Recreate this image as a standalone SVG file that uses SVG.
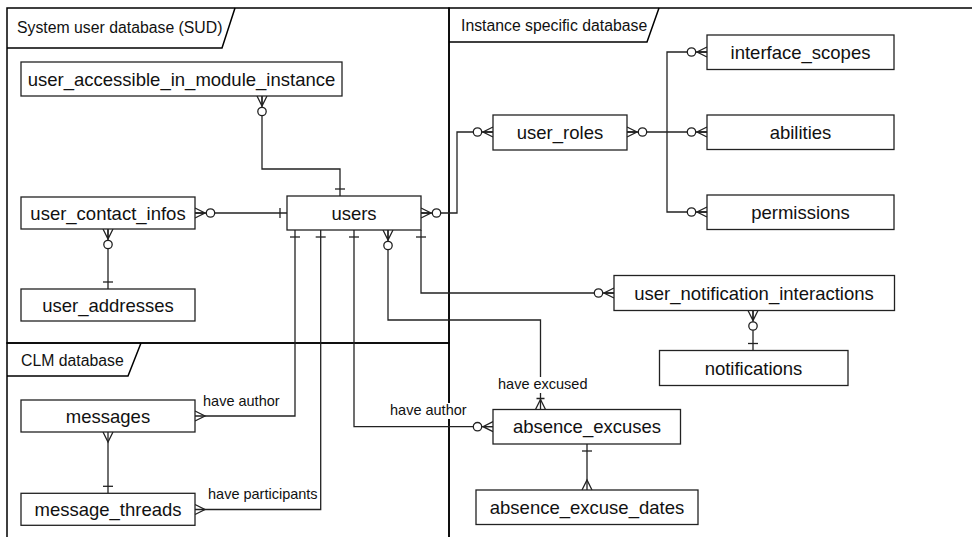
<svg xmlns="http://www.w3.org/2000/svg" width="972" height="537" viewBox="0 0 972 537">
<style>
.frame{fill:none;stroke:#000;stroke-width:1.5}
.box{fill:#fff;stroke:#222;stroke-width:1.3}
.nt{font-family:"Liberation Sans",Arial,sans-serif;font-size:18.5px;fill:#111;text-anchor:middle}
.ft{font-family:"Liberation Sans",Arial,sans-serif;font-size:15.8px;fill:#111}
.lt{font-family:"Liberation Sans",Arial,sans-serif;font-size:14.5px;fill:#111}
.c{fill:none;stroke:#222;stroke-width:1.3}
.m0n{marker-start:url(#m0n)}
</style>
<defs>
<marker id="m0n" markerUnits="userSpaceOnUse" viewBox="-22 -7 24 14" refX="0" refY="0" markerWidth="24" markerHeight="14" orient="auto-start-reverse" overflow="visible">
<path d="M0,-5 L-10,0 L0,5 M-10,0 H0" fill="none" stroke="#222" stroke-width="1.3"/>
<circle cx="-15.5" cy="0" r="4.2" fill="#fff" stroke="#222" stroke-width="1.3"/>
</marker>
<marker id="mn" markerUnits="userSpaceOnUse" viewBox="-22 -7 24 14" refX="0" refY="0" markerWidth="24" markerHeight="14" orient="auto-start-reverse" overflow="visible">
<path d="M0,-5 L-10,0 L0,5" fill="none" stroke="#222" stroke-width="1.3"/>
</marker>
<marker id="one" markerUnits="userSpaceOnUse" viewBox="-22 -7 24 14" refX="0" refY="0" markerWidth="24" markerHeight="14" orient="auto-start-reverse" overflow="visible">
<path d="M-7,-5 V5" fill="none" stroke="#222" stroke-width="1.3"/>
</marker>
<marker id="m1n" markerUnits="userSpaceOnUse" viewBox="-22 -7 24 14" refX="0" refY="0" markerWidth="24" markerHeight="14" orient="auto-start-reverse" overflow="visible">
<path d="M0,-5 L-10,0 L0,5 M-11,-4 V4" fill="none" stroke="#222" stroke-width="1.3"/>
</marker>
</defs>
<rect width="972" height="537" fill="#fff"/>

<g id="frames">
<g id="frame-sud">
<rect class="frame" x="7" y="8" width="442" height="335"/>
<path class="frame" d="M7,48 H222 L235,8"/>
<text class="ft" x="17" y="33">System user database (SUD)</text>
</g>
<g id="frame-clm">
<rect class="frame" x="7" y="343" width="442" height="210"/>
<path class="frame" d="M7,376 H128 L141,343"/>
<text class="ft" x="21" y="366">CLM database</text>
</g>
<g id="frame-instance">
<rect class="frame" x="449" y="8" width="540" height="545"/>
<path class="frame" d="M449,42 H647 L659,8"/>
<text class="ft" x="461" y="31">Instance specific database</text>
</g>
</g>

<g id="connectors">
<path class="c" d="M262,96 V169 H340 V196" marker-start="url(#m0n)" marker-end="url(#one)"/>
<path class="c" d="M195,213 H287" marker-start="url(#m0n)" marker-end="url(#one)"/>
<path class="c" d="M108,229 V289" marker-start="url(#m0n)" marker-end="url(#one)"/>
<path class="c" d="M421,213 H457 V132 H493" marker-start="url(#m0n)" marker-end="url(#m0n)"/>
<path class="c" d="M627,132 H707" marker-start="url(#m0n)" marker-end="url(#m0n)"/>
<path class="c" d="M707,52 H667 V212 H707" marker-start="url(#m0n)" marker-end="url(#m0n)"/>
<path class="c" d="M421,230 V293 H614" marker-start="url(#one)" marker-end="url(#m0n)"/>
<path class="c" d="M753,310.5 V350.5" marker-start="url(#m0n)" marker-end="url(#one)"/>
<path class="c" d="M388,230 V320 H540.5 V409.5" marker-start="url(#m0n)" marker-end="url(#m1n)"/>
<path class="c" d="M354,230 V426.7 H493" marker-start="url(#one)" marker-end="url(#m0n)"/>
<path class="c" d="M587,444 V490" marker-start="url(#one)" marker-end="url(#mn)"/>
<path class="c" d="M295,230 V416 H195" marker-start="url(#one)" marker-end="url(#mn)"/>
<path class="c" d="M320.7,230 V509.5 H195" marker-start="url(#one)" marker-end="url(#mn)"/>
<path class="c" d="M108,432 V493.3" marker-start="url(#mn)" marker-end="url(#one)"/>
<g id="connector-labels">
<text class="lt" x="203" y="406">have author</text>
<text class="lt" x="208" y="499">have participants</text>
<rect x="389" y="403" width="79" height="16" fill="#fff"/>
<text class="lt" x="390" y="415">have author</text>
<rect x="497" y="377" width="91" height="16" fill="#fff"/>
<text class="lt" x="498" y="389">have excused</text>
</g>
</g>

<g id="node-user_accessible_in_module_instance"><rect class="box" x="21" y="62" width="321" height="34"/><text class="nt" x="181.5" y="85.5">user_accessible_in_module_instance</text></g>
<g id="node-user_contact_infos"><rect class="box" x="21" y="197" width="174" height="32"/><text class="nt" x="108" y="219.5">user_contact_infos</text></g>
<g id="node-user_addresses"><rect class="box" x="21" y="289" width="174" height="32"/><text class="nt" x="108" y="311.5">user_addresses</text></g>
<g id="node-users"><rect class="box" x="287" y="196" width="134" height="34"/><text class="nt" x="354" y="219.5">users</text></g>
<g id="node-user_roles"><rect class="box" x="493" y="115" width="134" height="35"/><text class="nt" x="560" y="139">user_roles</text></g>
<g id="node-interface_scopes"><rect class="box" x="707" y="35" width="187" height="34.5"/><text class="nt" x="800.5" y="58.5">interface_scopes</text></g>
<g id="node-abilities"><rect class="box" x="707" y="115" width="187" height="34.5"/><text class="nt" x="800.5" y="138.5">abilities</text></g>
<g id="node-permissions"><rect class="box" x="707" y="195" width="187" height="34.5"/><text class="nt" x="800.5" y="218.5">permissions</text></g>
<g id="node-user_notification_interactions"><rect class="box" x="614" y="275.5" width="280.5" height="35"/><text class="nt" x="754" y="299.5">user_notification_interactions</text></g>
<g id="node-notifications"><rect class="box" x="659.5" y="350.5" width="188.5" height="35"/><text class="nt" x="753.5" y="374.5">notifications</text></g>
<g id="node-absence_excuses"><rect class="box" x="493" y="409.5" width="187.5" height="34.5"/><text class="nt" x="587" y="433">absence_excuses</text></g>
<g id="node-absence_excuse_dates"><rect class="box" x="476" y="490" width="222" height="34.5"/><text class="nt" x="587" y="513.5">absence_excuse_dates</text></g>
<g id="node-messages"><rect class="box" x="21" y="400" width="174" height="32"/><text class="nt" x="108" y="422.5">messages</text></g>
<g id="node-message_threads"><rect class="box" x="21" y="493.3" width="174" height="32"/><text class="nt" x="108" y="516">message_threads</text></g>
</svg>
